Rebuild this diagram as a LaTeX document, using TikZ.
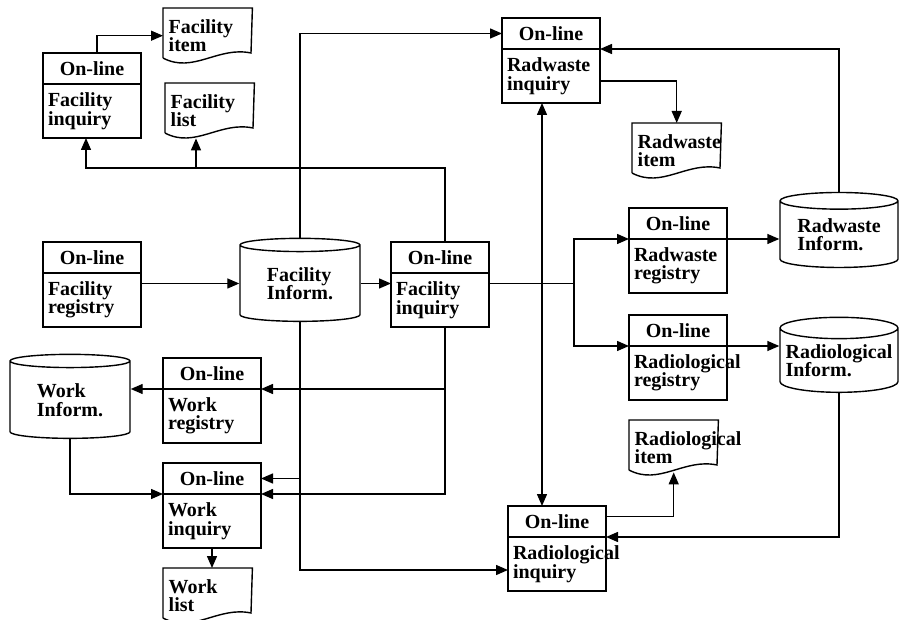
\documentclass[tikz,border=0pt]{standalone}
\usepackage{fontspec}
\setmainfont{Liberation Serif}
\usetikzlibrary{positioning,shapes.geometric,arrows.meta}

\tikzset{
  online/.style={draw,anchor=north west,minimum width=98pt,minimum height=31pt,inner sep=0pt,outer sep=0pt},
  body/.style={draw,below=0pt of #1,minimum width=98pt,minimum height=54pt,text width=88pt,align=left,inner sep=0pt,outer sep=0pt},
  doc/.style={anchor=north west,minimum width=88pt,minimum height=54pt,text width=78pt,align=left,inner sep=0pt},
  store/.style={cylinder,draw,shape border rotate=90,aspect=0.2,minimum width=120pt,minimum height=83pt,align=left,inner sep=0pt},
  arr/.style={-{Triangle[length=12pt,width=10pt]}},
  dbl/.style={{Triangle[length=12pt,width=10pt]}-{Triangle[length=12pt,width=10pt]}}
}

\begin{document}
\begin{tikzpicture}[x=1pt,y=-1pt,line width=1.4pt,font=\fontsize{20}{18.5}\selectfont\bfseries]
  \useasboundingbox (0,0) rectangle (900,620);
  % on-line boxes
  \node[online] (fq1h) at (43,53) {On-line};
  \node[body=fq1h] (fq1b) {Facility\\inquiry};
  \node[online] (frh) at (43,242) {On-line};
  \node[body=frh] (frb) {Facility\\registry};
  \node[online] (fq2h) at (391,242) {On-line};
  \node[body=fq2h] (fq2b) {Facility\\inquiry};
  \node[online] (rqh) at (502,18) {On-line};
  \node[body=rqh] (rqb) {Radwaste\\inquiry};
  \node[online] (rrh) at (629,208) {On-line};
  \node[body=rrh] (rrb) {Radwaste\\registry};
  \node[online] (lrh) at (629,315) {On-line};
  \node[body=lrh] (lrb) {Radiological\\registry};
  \node[online] (lqh) at (508,506) {On-line};
  \node[body=lqh] (lqb) {Radiological\\inquiry};
  \node[online] (wrh) at (163,358) {On-line};
  \node[body=wrh] (wrb) {Work\\registry};
  \node[online] (wqh) at (163,463) {On-line};
  \node[body=wqh] (wqb) {Work\\inquiry};
  % documents
  \node[doc] (fitem) at (163,8) {Facility\\item};
  \node[doc] (flist) at (165,83) {Facility\\list};
  \node[doc] (ritem) at (632,123) {Radwaste\\item};
  \node[doc] (litem) at (629,420) {Radiological\\item};
  \node[doc] (wlist) at (163,568) {Work\\list};
  \foreach \d in {fitem,flist,ritem,litem,wlist}
    \draw ([shift={(0,50)}]\d.north west) -- (\d.north west) -- (\d.north east) -- ([shift={(88,45)}]\d.north west)
      .. controls ([shift={(55,38)}]\d.north west) and ([shift={(30,66)}]\d.north west) .. ([shift={(0,50)}]\d.north west);
  % files
  \node[store] (fi) at (300,283.5) {Facility\\Inform.};
  \node[store,minimum width=118pt,minimum height=75pt] (rwi) at (839,234.5) {Radwaste\\Inform.};
  \node[store,minimum width=118pt,minimum height=75pt] (lri) at (839,360.5) {Radiological\\Inform.};
  \node[store,minimum height=84pt] (wi) at (70,400) {Work\\Inform.};
  % connectors
  \coordinate (b1) at (86,168);
  \coordinate (b2) at (196,168);
  \coordinate (j2) at (574,283.5);
  \draw[arr] ([xshift=5pt]fq1h.north) |- (fitem.west);
  \draw[arr] ([xshift=5pt]fq2h.north) |- (b1) -- (b1 |- fq1b.south);
  \draw[arr] (b2) -- (b2 |- flist.south);
  \draw[arr] (fi.north) |- (rqh.west);
  \draw[arr] (frb.east |- fi.west) -- (fi.west);
  \draw[arr] (fi.east) -- (fi.east -| fq2b.west);
  \draw (fq2b.east |- j2) -- (j2);
  \draw[arr] (j2) |- (rrh.south west);
  \draw[arr] (j2) |- (lrh.south west);
  \draw[arr] (rrh.south east) -- (rrh.south east -| rwi.west);
  \draw[arr] (lrh.south east) -- (lrh.south east -| lri.west);
  \draw[arr] (rwi.north) |- (rqh.south east);
  \draw[arr] ([yshift=-5pt]rqb.east) -| (ritem.north);
  \draw[dbl] ([xshift=-9pt]rqb.south) -- ([xshift=-9pt]rqb.south |- lqh.north);
  \draw[arr] ([yshift=5pt]lqh.east) -| ([yshift=3pt]litem.south);
  \draw[arr] (lri.south) |- (lqh.south east);
  \draw[arr] (fi.south) |- ([yshift=-6pt]lqb.west);
  \draw[arr] (fi.south |- wqh.east) -- (wqh.east);
  \draw[arr] ([xshift=5pt]fq2b.south) |- (wrh.south east);
  \draw[arr] (wrh.south west) -- (wrh.south west -| wi.east);
  \draw[arr] ([xshift=5pt]fq2b.south) |- (wqh.south east);
  \draw[arr] (wi.south) |- (wqh.south west);
  \draw[arr] (wqb.south) -- (wqb.south |- wlist.north);
\end{tikzpicture}
\end{document}
